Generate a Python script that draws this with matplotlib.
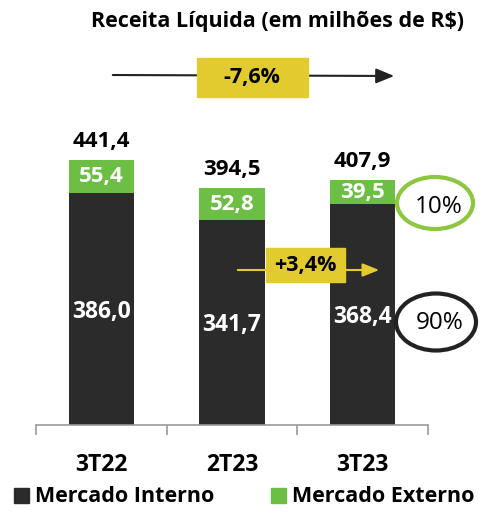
import matplotlib
matplotlib.use("Agg")
from matplotlib import pyplot as plt
from matplotlib.patches import Ellipse, Rectangle

plt.rcParams['font.family'] = ['Open Sans', 'DejaVu Sans']

# dados
periodos = ['3T22', '2T23', '3T23']
mercado_interno = [386.0, 341.7, 368.4]
mercado_externo = [55.4, 52.8, 39.5]
totais = [441.4, 394.5, 407.9]

var_ano = '-7,6%'
var_interno = '+3,4%'
share_externo = '10%'
share_interno = '90%'

cor_interno = '#2b2b2b'
cor_externo = '#6cbe45'
cor_amarelo = '#e2cb2e'
cor_elipse = '#8dc63f'

W, H = 481, 512
fig = plt.figure(figsize=(W / 100, H / 100), dpi=100)

# eixo das barras (base em y=425 px, 0.6 px por unidade)
ax = fig.add_axes([36 / W, 87 / H, (428 - 36) / W, (H - 87) / H])
x = range(len(periodos))
ax.bar(x, mercado_interno, width=0.5, color=cor_interno)
ax.bar(x, mercado_externo, width=0.5, bottom=mercado_interno, color=cor_externo)
ax.set_xlim(-0.5, 2.5)
ax.set_ylim(0, 425 / 0.6)

for i in x:
    ax.text(i, mercado_interno[i] / 2 - 4, f'{mercado_interno[i]:.1f}'.replace('.', ','),
            ha='center', va='center', color='white', fontsize=16.5, fontweight='bold')
    ax.text(i, mercado_interno[i] + mercado_externo[i] / 2, f'{mercado_externo[i]:.1f}'.replace('.', ','),
            ha='center', va='center', color='white', fontsize=16, fontweight='bold')
    ax.text(i, totais[i] + 14, f'{totais[i]:.1f}'.replace('.', ','),
            ha='center', va='bottom', color='black', fontsize=16, fontweight='bold')

for s in ['top', 'right', 'left']:
    ax.spines[s].set_visible(False)
ax.spines['bottom'].set_color('#999999')
ax.spines['bottom'].set_linewidth(1.2)
ax.set_yticks([])
ax.set_xticks([-0.5, 0.5, 1.5, 2.5])
ax.set_xticklabels([])
ax.tick_params(axis='x', length=7, width=1.2, color='#999999', direction='out')
ax.set_xticks(list(x), minor=True)
ax.set_xticklabels(periodos, minor=True, fontsize=16.5, fontweight='bold')
ax.tick_params(axis='x', which='minor', length=0, pad=20)

# camada de anotações em pixels
ov = fig.add_axes([0, 0, 1, 1])
ov.set_xlim(0, W)
ov.set_ylim(H, 0)
ov.axis('off')

ov.text(278, 22, 'Receita Líquida (em milhões de R$)', ha='center', va='center',
        fontsize=15.5, fontweight='bold')

ov.annotate('', xy=(397, 76), xytext=(110, 75),
            arrowprops=dict(arrowstyle='-|>,head_length=1.1,head_width=0.45', color='#222222', lw=1.5))
ov.add_patch(Rectangle((197, 58), 111, 39, color=cor_amarelo, zorder=3))
ov.text(252, 77, var_ano, ha='center', va='center', fontsize=15.5, fontweight='bold', zorder=4)

ov.annotate('', xy=(382, 270), xytext=(235, 270),
            arrowprops=dict(arrowstyle='-|>,head_length=1.0,head_width=0.4', color=cor_amarelo, lw=1.5))
ov.add_patch(Rectangle((266, 248), 79, 34, color=cor_amarelo, zorder=3))
ov.text(305, 266, var_interno, ha='center', va='center', fontsize=15.5, fontweight='bold', zorder=4)

ov.add_patch(Ellipse((435, 203), 76, 52, fill=False, ec=cor_elipse, lw=3))
ov.text(439, 207, share_externo, ha='center', va='center', fontsize=17.5)
ov.add_patch(Ellipse((436, 322), 80, 57, fill=False, ec='#222222', lw=3))
ov.text(440, 323, share_interno, ha='center', va='center', fontsize=17.5)

# legenda
ov.add_patch(Rectangle((14, 488), 15, 15, color=cor_interno))
ov.text(35, 496, 'Mercado Interno', ha='left', va='center', fontsize=15.5, fontweight='bold')
ov.add_patch(Rectangle((271, 488), 15, 15, color=cor_externo))
ov.text(292, 496, 'Mercado Externo', ha='left', va='center', fontsize=15.5, fontweight='bold')

fig.savefig('out.png', dpi=100)
